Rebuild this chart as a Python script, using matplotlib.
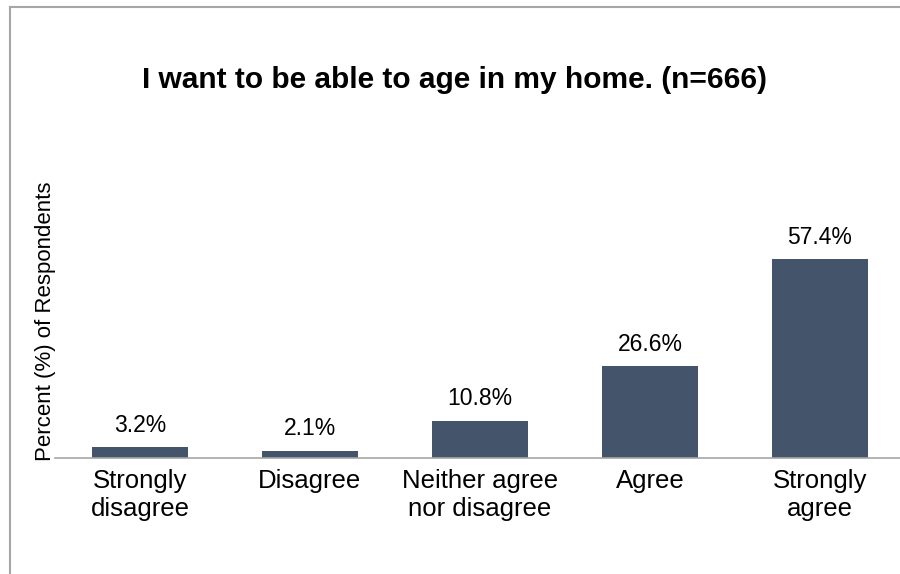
import matplotlib.pyplot as plt
from matplotlib.lines import Line2D

categories = ['Strongly\ndisagree', 'Disagree', 'Neither agree\nnor disagree', 'Agree', 'Strongly\nagree']
percents = [3.2, 2.1, 10.8, 26.6, 57.4]

plt.rcParams['font.family'] = ['Liberation Sans', 'DejaVu Sans']

fig = plt.figure(figsize=(9, 5.74), dpi=100)
ax = fig.add_axes([55 / 900, 116 / 574, 850 / 900, 346 / 574])

x = range(len(categories))
bars = ax.bar(x, percents, width=0.57, color='#44546A', zorder=2)
for b, v in zip(bars, percents):
    ax.text(b.get_x() + b.get_width() / 2, v + 3, f'{v:.1f}%',
            ha='center', va='bottom', fontsize=16.5, color='black')

ax.set_xlim(-0.5, len(categories) - 0.5)
ax.set_ylim(0, 100)
ax.set_xticks(list(x))
ax.set_xticklabels(categories, fontsize=18.5, linespacing=1.2)
ax.tick_params(axis='x', length=0, pad=8)
ax.set_yticks([])
for s in ['top', 'right', 'left']:
    ax.spines[s].set_visible(False)
ax.spines['bottom'].set_color('#A6A6A6')
ax.spines['bottom'].set_linewidth(1.2)

ax.set_ylabel('Percent (%) of Respondents', fontsize=16)
ax.yaxis.set_label_coords(0.001, 0.396)

fig.text(0.505, 1 - 80 / 574, 'I want to be able to age in my home. (n=666)',
         ha='center', va='center', fontsize=21.5, fontweight='bold')

# outer frame (left and top edges)
fig.add_artist(Line2D([10 / 900, 10 / 900], [0, 1 - 7 / 574], color='#A6A6A6', lw=1.5))
fig.add_artist(Line2D([10 / 900, 1], [1 - 7 / 574, 1 - 7 / 574], color='#A6A6A6', lw=1.5))

fig.savefig('out.png', dpi=100)
